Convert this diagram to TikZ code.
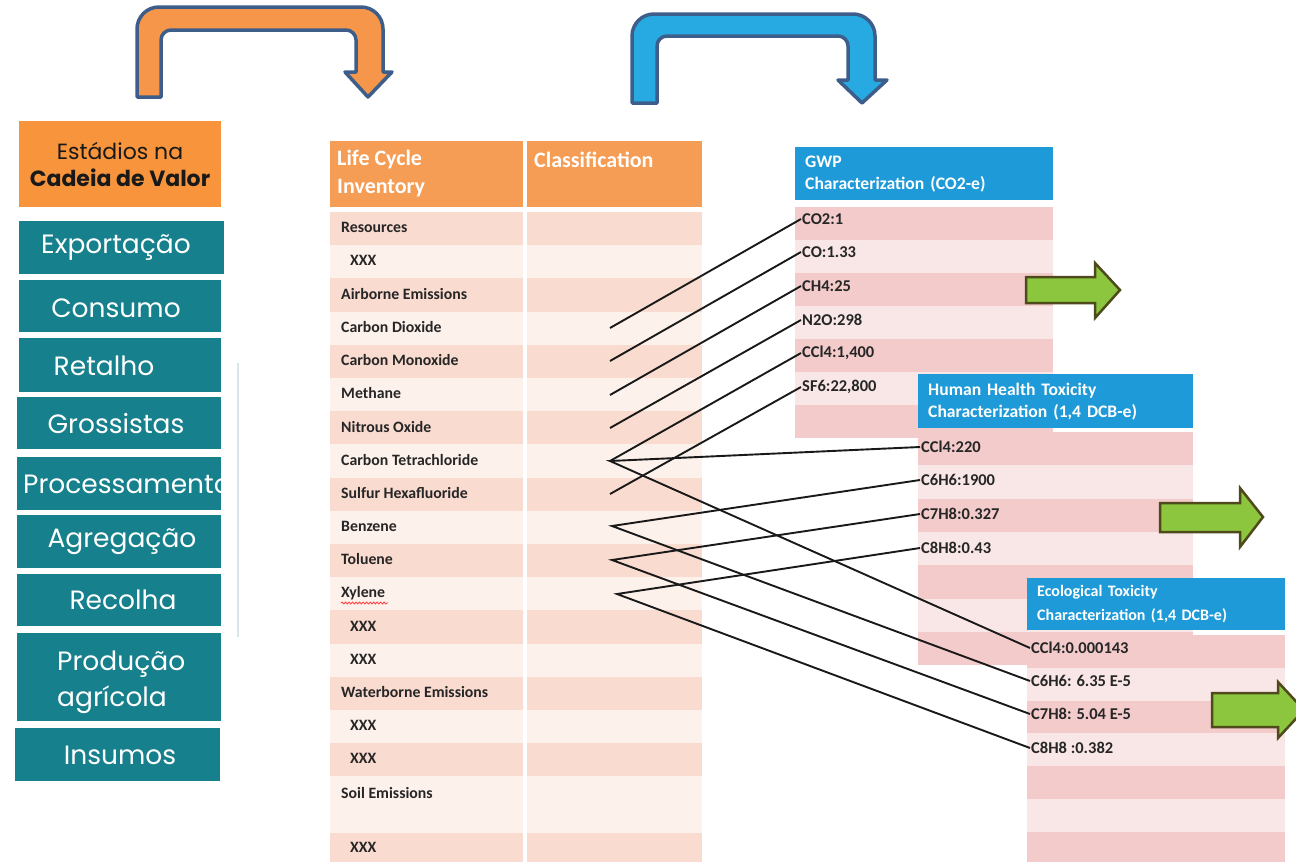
\documentclass[tikz,border=0pt]{standalone}
\usepackage{fontspec}
\setmainfont{Carlito}
\newfontfamily\popfont{Poppins}
\usetikzlibrary{decorations.pathmorphing}
\definecolor{stageteal}{HTML}{17808D}
\definecolor{stageorange}{HTML}{F7943C}
\definecolor{arrowedge}{HTML}{3D5E8B}
\definecolor{arroworange}{HTML}{F5964A}
\definecolor{arrowblue}{HTML}{27AAE1}
\definecolor{lciheadc}{HTML}{F59C55}
\definecolor{lcidark}{HTML}{FADBD0}
\definecolor{lcilight}{HTML}{FDF1EC}
\definecolor{charheadc}{HTML}{1E9AD8}
\definecolor{chardark}{HTML}{F3CBCB}
\definecolor{charlight}{HTML}{F9E6E6}
\definecolor{greenfill}{HTML}{8CC63F}
\definecolor{greenedge}{HTML}{4E4A1C}
\definecolor{guideline}{HTML}{D6E4EB}
\begin{document}
\begin{tikzpicture}[x=1pt,y=-1pt,
  stagebox/.style={fill=stageteal, inner sep=0pt, minimum width=#1},
  stagebox/.default=204pt,
  stagetext/.style={text=white, font=\popfont\fontsize{26.5}{36}\selectfont, inner sep=0pt},
  bentarrow/.style={draw=arrowedge, line width=3.5pt, line join=round},
  lcitext/.style={font=\bfseries\fontsize{15.8}{18}\selectfont, text=black!85, inner sep=1pt, anchor=west},
  chartext/.style={font=\bfseries\fontsize{16.5}{18}\selectfont, text=black!85, inner sep=1pt, anchor=west},
  charhead/.style={fill=charheadc, text=white, font=\bfseries\fontsize{17.6}{22}\selectfont, align=left, anchor=north west, inner xsep=10pt, inner ysep=0pt},
  link/.style={draw=black!90, line width=1.9pt},
  greenarrow/.style={fill=greenfill, draw=greenedge, line width=2.5pt, line join=miter}
]
\useasboundingbox (0,0) rectangle (1296,862);
\clip (0,0) rectangle (1296,862);
\fill[white] (0,0) rectangle (1296,862);

% ---------- bent arrows ----------
\draw[bentarrow, fill=arroworange] (137,97) -- (137,29) arc[start angle=180,end angle=270,radius=22]
  -- (361,7) arc[start angle=270,end angle=360,radius=22] -- (383,72) -- (392,72) -- (368,97) -- (345,72) -- (356,72)
  -- (356,40) arc[start angle=0,end angle=-90,radius=10] -- (171,30) arc[start angle=-90,end angle=-180,radius=10]
  -- (161,97) -- cycle;
\draw[bentarrow, fill=arrowblue] (632,103) -- (632,36) arc[start angle=180,end angle=270,radius=22]
  -- (853,14) arc[start angle=270,end angle=360,radius=22] -- (875,80) -- (887,80) -- (862,103) -- (838,80) -- (848,80)
  -- (848,46) arc[start angle=0,end angle=-90,radius=10] -- (667,36) arc[start angle=-90,end angle=-180,radius=10]
  -- (657,103) -- cycle;

% ---------- value chain column ----------
\node[fill=stageorange, minimum width=202pt, minimum height=86pt, inner sep=0pt, align=center,
  font=\popfont\fontsize{22}{27}\selectfont, text=black!90] (stages) at (120,164)
  {Estádios na\\\textbf{Cadeia de Valor}};
\node[stagebox=205pt, minimum height=53pt] (exp) at (121.5,247.5) {};
\node[stagetext] (exp-t) at (116,247.5) {Exportação};
\node[stagebox=202pt, minimum height=52pt] (con) at (120,306) {};
\node[stagetext] (con-t) at (116,308) {Consumo};
\node[stagebox=202pt, minimum height=54pt] (ret) at (120,365) {};
\node[stagetext] (ret-t) at (104,366) {Retalho};
\node[stagebox, minimum height=52pt] (gro) at (119,423) {};
\node[stagetext] (gro-t) at (116,424) {Grossistas};
\node[stagebox, minimum height=53pt] (pro) at (119,483.5) {};
\node[stagetext, anchor=west] (pro-t) at (23,484) {Processamento};
\node[stagebox, minimum height=53pt] (agr) at (119,541.5) {};
\node[stagetext] (agr-t) at (122,541.5) {Agregação};
\node[stagebox, minimum height=52pt] (rec) at (119,600) {};
\node[stagetext] (rec-t) at (123,600) {Recolha};
\node[stagebox, minimum height=88pt] (prod) at (119,677) {};
\node[stagetext, anchor=west, align=left] (prod-t) at (57,682) {Produção\\agrícola};
\node[stagebox=205pt, minimum height=53pt] (ins) at (117.5,754.5) {};
\node[stagetext] (ins-t) at (120,755) {Insumos};
\draw[guideline, line width=1.5pt] (238,363) -- (238,637);

% ---------- life cycle inventory table ----------
\node[fill=lciheadc, minimum width=193pt, minimum height=66pt, anchor=north west, inner sep=0pt] (lcih1) at (330,141) {};
\node[fill=lciheadc, minimum width=175pt, minimum height=66pt, anchor=north west, inner sep=0pt] (lcih2) at (527,141) {};
\node[anchor=west, align=left, text=white, font=\bfseries\fontsize{22}{28}\selectfont, inner sep=0pt] (lcih1t) at (337,174) {Life Cycle\\Inventory};
\node[anchor=west, text=white, font=\bfseries\fontsize{22}{28}\selectfont, inner sep=0pt] (lcih2t) at (534,160) {Classification};
\foreach \i in {0,...,16}{
  \pgfmathsetmacro\rtop{212+33.2*\i}
  \pgfmathsetmacro\rbot{212+33.2*(\i+1)}
  \ifodd\i \def\rc{lcilight}\else\def\rc{lcidark}\fi
  \fill[\rc] (330,\rtop) rectangle (523,\rbot);
  \fill[\rc] (527,\rtop) rectangle (702,\rbot);
}
\fill[lcilight] (330,776.4) rectangle (523,833);
\fill[lcilight] (527,776.4) rectangle (702,833);
\fill[lcidark] (330,833) rectangle (523,870);
\fill[lcidark] (527,833) rectangle (702,870);
\foreach \i/\txt/\xx in {0/Resources/340, 1/XXX/349, 2/Airborne Emissions/340, 3/Carbon Dioxide/340,
  4/Carbon Monoxide/340, 5/Methane/340, 6/Nitrous Oxide/340, 7/Carbon Tetrachloride/340,
  8/Sulfur Hexafluoride/340, 9/Benzene/340, 10/Toluene/340, 11/Xylene/340, 12/XXX/349, 13/XXX/349,
  14/Waterborne Emissions/340, 15/XXX/349, 16/XXX/349}{
  \pgfmathsetmacro\ry{227.5+33.2*\i}
  \node[lcitext] (lci\i) at (\xx,\ry) {\txt};
}
\node[lcitext] (lci17) at (340,793) {Soil Emissions};
\node[lcitext] (lci18) at (349,847) {XXX};
\draw[red!75, line width=0.8pt, decorate, decoration={snake, amplitude=1pt, segment length=3.5pt}] (341,603) -- (388,603);

% ---------- GWP table ----------
\foreach \i in {0,...,6}{
  \pgfmathsetmacro\rtop{207+33*\i}
  \pgfmathsetmacro\rbot{207+33*(\i+1)}
  \ifodd\i \def\rc{charlight}\else\def\rc{chardark}\fi
  \fill[\rc] (795,\rtop) rectangle (1053,\rbot);
}
\node[charhead, minimum width=258pt, minimum height=53pt, text width=238pt] (gwp) at (795,147) {GWP\\Characterization (CO2-e)};
\foreach \i/\txt/\ry in {1/{CO2:1}/219, 2/{CO:1.33}/252, 3/{CH4:25}/286, 4/{N2O:298}/320, 5/{CCl4:1,400}/353, 6/{SF6:22,800}/387}{
  \node[chartext] (g\i) at (801,\ry) {\txt};
}

% ---------- Human health table ----------
\foreach \i in {0,...,6}{
  \pgfmathsetmacro\rtop{432+33.3*\i}
  \pgfmathsetmacro\rbot{432+33.3*(\i+1)}
  \ifodd\i \def\rc{charlight}\else\def\rc{chardark}\fi
  \fill[\rc] (918,\rtop) rectangle (1193,\rbot);
}
\node[charhead, minimum width=275pt, minimum height=54pt, text width=255pt] (hh) at (918,374) {Human Health Toxicity\\Characterization (1,4 DCB-e)};
\foreach \i/\txt/\ry in {1/{CCl4:220}/447, 2/{C6H6:1900}/480, 3/{C7H8:0.327}/514, 4/{C8H8:0.43}/548}{
  \node[chartext] (h\i) at (920,\ry) {\txt};
}

% ---------- Ecological table ----------
\foreach \i in {0,...,6}{
  \pgfmathsetmacro\rtop{635+32.8*\i}
  \pgfmathsetmacro\rbot{635+32.8*(\i+1)}
  \ifodd\i \def\rc{charlight}\else\def\rc{chardark}\fi
  \fill[\rc] (1027,\rtop) rectangle (1285,\rbot);
}
\node[charhead, font=\bfseries\fontsize{16}{24}\selectfont, minimum width=258pt, minimum height=52pt, text width=238pt] (eco) at (1027,578) {Ecological Toxicity\\Characterization (1,4 DCB-e)};
\foreach \i/\txt/\ry in {1/{CCl4:0.000143}/648, 2/{C6H6: 6.35 E-5}/681, 3/{C7H8: 5.04 E-5}/714, 4/{C8H8 :0.382}/748}{
  \node[chartext] (e\i) at (1030,\ry) {\txt};
}

% ---------- connectors ----------
\coordinate (s3) at (610,328);
\coordinate (s4) at (610,361);
\coordinate (s5) at (610,395);
\coordinate (s6) at (610,428);
\coordinate (s7) at (610,461);
\coordinate (s8) at (610,494);
\coordinate (s9) at (612,526);
\coordinate (s10) at (612,560);
\coordinate (s11) at (617,594);
\draw[link] (s3) -- (g1.west);
\draw[link] (s4) -- (g2.west);
\draw[link] (s5) -- (g3.west);
\draw[link] (s6) -- (g4.west);
\draw[link] (s7) -- (g5.west);
\draw[link] (s8) -- (g6.west);
\draw[link] (h1.west) -- (s7) -- (e1.west);
\draw[link] (h2.west) -- (s9) -- (e2.west);
\draw[link] (h3.west) -- (s10) -- (e3.west);
\draw[link] (h4.west) -- (s11) -- (e4.west);

% ---------- green arrows ----------
\draw[greenarrow] (1026,277) -- (1095,277) -- (1095,263) -- (1120,290) -- (1095,318) -- (1095,303) -- (1026,303) -- cycle;
\draw[greenarrow] (1160,503) -- (1240,503) -- (1240,488) -- (1263,517) -- (1240,547) -- (1240,532) -- (1160,532) -- cycle;
\draw[greenarrow] (1212,693) -- (1278,693) -- (1278,682) -- (1304,710) -- (1278,738) -- (1278,727) -- (1212,727) -- cycle;
\end{tikzpicture}
\end{document}
